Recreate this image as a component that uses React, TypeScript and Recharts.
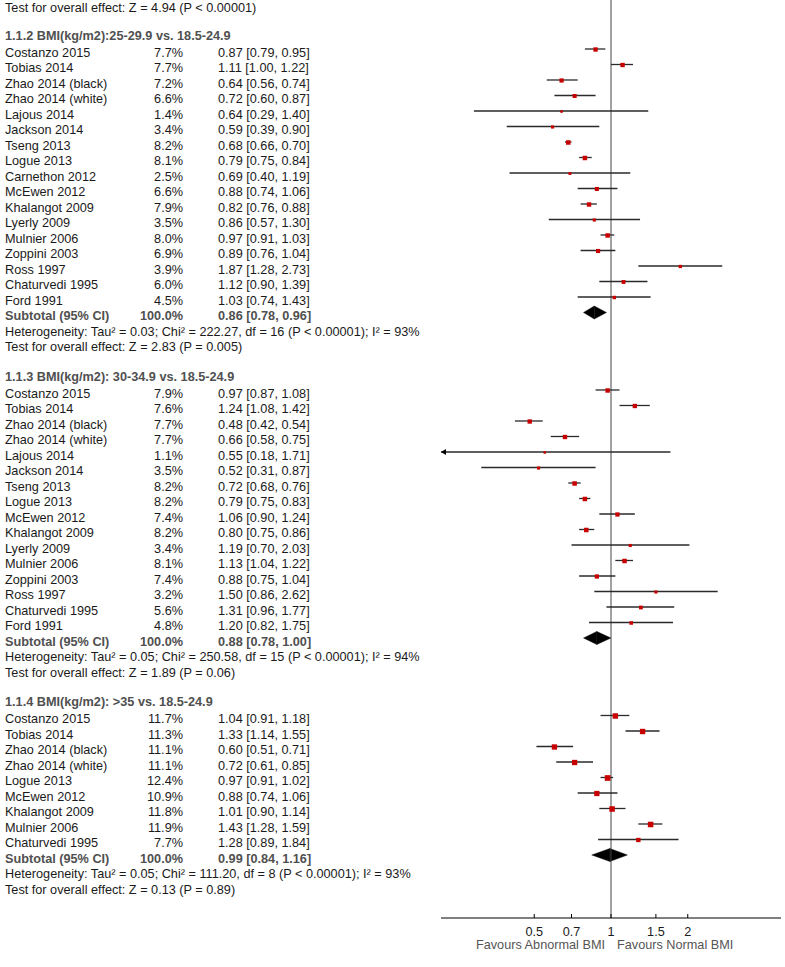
import React from 'react';
import { ComposedChart, XAxis, YAxis, Scatter, ReferenceLine, ReferenceArea, ReferenceDot } from 'recharts';

// ---- Data ----
const overallTopLine = 'Test for overall effect: Z = 4.94 (P < 0.00001)';

const headers = [
  '1.1.2 BMI(kg/m2):25-29.9 vs. 18.5-24.9',
  '1.1.3 BMI(kg/m2): 30-34.9 vs. 18.5-24.9',
  '1.1.4 BMI(kg/m2): >35 vs. 18.5-24.9',
];

const names1 = ['Costanzo 2015', 'Tobias 2014', 'Zhao 2014 (black)', 'Zhao 2014 (white)', 'Lajous 2014', 'Jackson 2014', 'Tseng 2013', 'Logue 2013', 'Carnethon 2012', 'McEwen 2012', 'Khalangot 2009', 'Lyerly 2009', 'Mulnier 2006', 'Zoppini 2003', 'Ross 1997', 'Chaturvedi 1995', 'Ford 1991'];
const weights1 = [7.7, 7.7, 7.2, 6.6, 1.4, 3.4, 8.2, 8.1, 2.5, 6.6, 7.9, 3.5, 8.0, 6.9, 3.9, 6.0, 4.5];
const est1 = [0.87, 1.11, 0.64, 0.72, 0.64, 0.59, 0.68, 0.79, 0.69, 0.88, 0.82, 0.86, 0.97, 0.89, 1.87, 1.12, 1.03];
const lo1 = [0.79, 1.00, 0.56, 0.60, 0.29, 0.39, 0.66, 0.75, 0.40, 0.74, 0.76, 0.57, 0.91, 0.76, 1.28, 0.90, 0.74];
const hi1 = [0.95, 1.22, 0.74, 0.87, 1.40, 0.90, 0.70, 0.84, 1.19, 1.06, 0.88, 1.30, 1.03, 1.04, 2.73, 1.39, 1.43];

const names2 = ['Costanzo 2015', 'Tobias 2014', 'Zhao 2014 (black)', 'Zhao 2014 (white)', 'Lajous 2014', 'Jackson 2014', 'Tseng 2013', 'Logue 2013', 'McEwen 2012', 'Khalangot 2009', 'Lyerly 2009', 'Mulnier 2006', 'Zoppini 2003', 'Ross 1997', 'Chaturvedi 1995', 'Ford 1991'];
const weights2 = [7.9, 7.6, 7.7, 7.7, 1.1, 3.5, 8.2, 8.2, 7.4, 8.2, 3.4, 8.1, 7.4, 3.2, 5.6, 4.8];
const est2 = [0.97, 1.24, 0.48, 0.66, 0.55, 0.52, 0.72, 0.79, 1.06, 0.80, 1.19, 1.13, 0.88, 1.50, 1.31, 1.20];
const lo2 = [0.87, 1.08, 0.42, 0.58, 0.18, 0.31, 0.68, 0.75, 0.90, 0.75, 0.70, 1.04, 0.75, 0.86, 0.96, 0.82];
const hi2 = [1.08, 1.42, 0.54, 0.75, 1.71, 0.87, 0.76, 0.83, 1.24, 0.86, 2.03, 1.22, 1.04, 2.62, 1.77, 1.75];

const names3 = ['Costanzo 2015', 'Tobias 2014', 'Zhao 2014 (black)', 'Zhao 2014 (white)', 'Logue 2013', 'McEwen 2012', 'Khalangot 2009', 'Mulnier 2006', 'Chaturvedi 1995'];
const weights3 = [11.7, 11.3, 11.1, 11.1, 12.4, 10.9, 11.8, 11.9, 7.7];
const est3 = [1.04, 1.33, 0.60, 0.72, 0.97, 0.88, 1.01, 1.43, 1.28];
const lo3 = [0.91, 1.14, 0.51, 0.61, 0.91, 0.74, 0.90, 1.28, 0.89];
const hi3 = [1.18, 1.55, 0.71, 0.85, 1.02, 1.06, 1.14, 1.59, 1.84];

const subWeights = [100.0, 100.0, 100.0];
const subEst = [0.86, 0.88, 0.99];
const subLo = [0.78, 0.78, 0.84];
const subHi = [0.96, 1.00, 1.16];

const hetLines = [
  'Heterogeneity: Tau\u00b2 = 0.03; Chi\u00b2 = 222.27, df = 16 (P < 0.00001); I\u00b2 = 93%',
  'Heterogeneity: Tau\u00b2 = 0.05; Chi\u00b2 = 250.58, df = 15 (P < 0.00001); I\u00b2 = 94%',
  'Heterogeneity: Tau\u00b2 = 0.05; Chi\u00b2 = 111.20, df = 8 (P < 0.00001); I\u00b2 = 93%',
];
const testLines = [
  'Test for overall effect: Z = 2.83 (P = 0.005)',
  'Test for overall effect: Z = 1.89 (P = 0.06)',
  'Test for overall effect: Z = 0.13 (P = 0.89)',
];

const xTicks = [0.5, 0.7, 1, 1.5, 2];
const favourLeft = 'Favours Abnormal BMI';
const favourRight = 'Favours Normal BMI';

// ---- Build rows ----
const sections = [
  { names: names1, weights: weights1, est: est1, lo: lo1, hi: hi1 },
  { names: names2, weights: weights2, est: est2, lo: lo2, hi: hi2 },
  { names: names3, weights: weights3, est: est3, lo: lo3, hi: hi3 },
];

type Line = { row: number; kind: string; text: string; w?: string; ci?: string };
const lines: Line[] = [];
const studies: any[] = [];
const subtotals: any[] = [];
const fmt = (v: number) => v.toFixed(2);
const ciText = (e: number, l: number, h: number) => `${fmt(e)} [${fmt(l)}, ${fmt(h)}]`;

lines.push({ row: -2.93, kind: 'plain', text: overallTopLine });
let start = 0;
sections.forEach((s, si) => {
  lines.push({ row: start - 1.1, kind: 'header', text: headers[si] });
  s.names.forEach((n, i) => {
    const row = start + i;
    lines.push({ row, kind: 'study', text: n, w: `${s.weights[i].toFixed(1)}%`, ci: ciText(s.est[i], s.lo[i], s.hi[i]) });
    studies.push({ row, est: s.est[i], lo: s.lo[i], hi: s.hi[i], weight: s.weights[i] });
  });
  const sr = start + s.names.length;
  lines.push({ row: sr, kind: 'subtotal', text: 'Subtotal (95% CI)', w: `${subWeights[si].toFixed(1)}%`, ci: ciText(subEst[si], subLo[si], subHi[si]) });
  subtotals.push({ row: sr, est: subEst[si], lo: subLo[si], hi: subHi[si] });
  lines.push({ row: sr + 1, kind: 'plain', text: hetLines[si] });
  lines.push({ row: sr + 2, kind: 'plain', text: testLines[si] });
  start = sr + 5;
});

const XMIN = Math.exp(-1.535);
const XMAX = Math.exp(1.535);
const YMIN = -3.161;
const YMAX = 56.065;

const FONT = '"Liberation Sans", Arial, sans-serif';
const FS = 12.7;

const LeftTick = (props: any) => {
  const { y, payload } = props;
  const line = lines.find((l) => Math.abs(l.row - payload.value) < 0.001);
  if (!line) return null;
  const bold = line.kind === 'header' || line.kind === 'subtotal';
  const color = bold ? '#505050' : '#1a1a1a';
  const common = { fontFamily: FONT, fontSize: FS, fill: color, fontWeight: bold ? 700 : 400, dy: 8 } as any;
  return (
    <g>
      <text x={5} y={y} {...common}>{line.text}</text>
      {line.w && <text x={183} y={y} textAnchor="end" {...common}>{line.w}</text>}
      {line.ci && <text x={218} y={y} {...common}>{line.ci}</text>}
    </g>
  );
};

const BottomTick = (props: any) => {
  const { x, y, payload } = props;
  return (
    <g>
      <line x1={x} x2={x} y1={y - 4} y2={y} stroke="#000" strokeWidth={1} />
      <text x={x} y={y + 18} textAnchor="middle" fontFamily={FONT} fontSize={FS} fill="#1a1a1a">{String(payload.value)}</text>
      {payload.value === 1 && (
        <>
          <text x={x - 6} y={y + 31} textAnchor="end" fontFamily={FONT} fontSize={FS} fill="#555">{favourLeft}</text>
          <text x={x + 6} y={y + 31} textAnchor="start" fontFamily={FONT} fontSize={FS} fill="#555">{favourRight}</text>
        </>
      )}
    </g>
  );
};

const Square = (props: any) => {
  const { cx, cy, payload } = props;
  const s = 2.2 + 0.28 * payload.weight;
  return <rect x={cx - s / 2} y={cy - s / 2 + 0.5} width={s} height={s} fill="#c80000" />;
};

const LeftHalf = (props: any) => {
  const { x, y, width, height } = props;
  return <polygon points={`${x},${y + height / 2} ${x + width},${y} ${x + width},${y + height}`} fill="#000" stroke="#000" strokeWidth={0.4} />;
};
const RightHalf = (props: any) => {
  const { x, y, width, height } = props;
  return <polygon points={`${x},${y} ${x + width},${y + height / 2} ${x},${y + height}`} fill="#000" stroke="#000" strokeWidth={0.4} />;
};
const ArrowLeft = (props: any) => {
  const { cx, cy } = props;
  return <polygon points={`${cx},${cy} ${cx + 5},${cy - 3} ${cx + 5},${cy + 3}`} fill="#000" />;
};

export default function App() {
  return (
    <div style={{ position: 'absolute', left: 0, top: 0, background: '#fff' }}>
      <ComposedChart width={785} height={967} margin={{ top: 0, right: 4, bottom: 0, left: 0 }}>
        <XAxis
          type="number"
          dataKey="est"
          scale="log"
          domain={[XMIN, XMAX]}
          allowDataOverflow
          ticks={xTicks}
          interval={0}
          height={49}
          tickSize={0}
          tickMargin={0}
          tickLine={false}
          axisLine={{ stroke: '#000', strokeWidth: 1 }}
          tick={<BottomTick />}
        />
        <YAxis
          type="number"
          dataKey="row"
          domain={[YMIN, YMAX]}
          reversed
          allowDataOverflow
          ticks={lines.map((l) => l.row)}
          interval={0}
          width={441}
          axisLine={false}
          tickLine={false}
          tick={<LeftTick />}
        />
        <ReferenceLine x={1} stroke="#444" strokeWidth={1} />
        {studies.map((s, i) => (
          <ReferenceLine
            key={`ci${i}`}
            segment={[{ x: Math.max(s.lo, XMIN), y: s.row }, { x: Math.min(s.hi, XMAX), y: s.row }]}
            stroke="#2a2a2a"
            strokeWidth={1.3}
            ifOverflow="visible"
          />
        ))}
        {studies.filter((s) => s.lo < XMIN).map((s, i) => (
          <ReferenceDot key={`ar${i}`} x={XMIN} y={s.row} ifOverflow="visible" shape={ArrowLeft} />
        ))}
        {subtotals.map((s, i) => (
          <ReferenceArea key={`dl${i}`} x1={s.lo} x2={s.est} y1={s.row - 0.42} y2={s.row + 0.42} shape={LeftHalf} ifOverflow="visible" />
        ))}
        {subtotals.map((s, i) => (
          <ReferenceArea key={`dr${i}`} x1={s.est} x2={s.hi} y1={s.row - 0.42} y2={s.row + 0.42} shape={RightHalf} ifOverflow="visible" />
        ))}
        <Scatter data={studies} shape={Square} isAnimationActive={false} />
      </ComposedChart>
    </div>
  );
}
